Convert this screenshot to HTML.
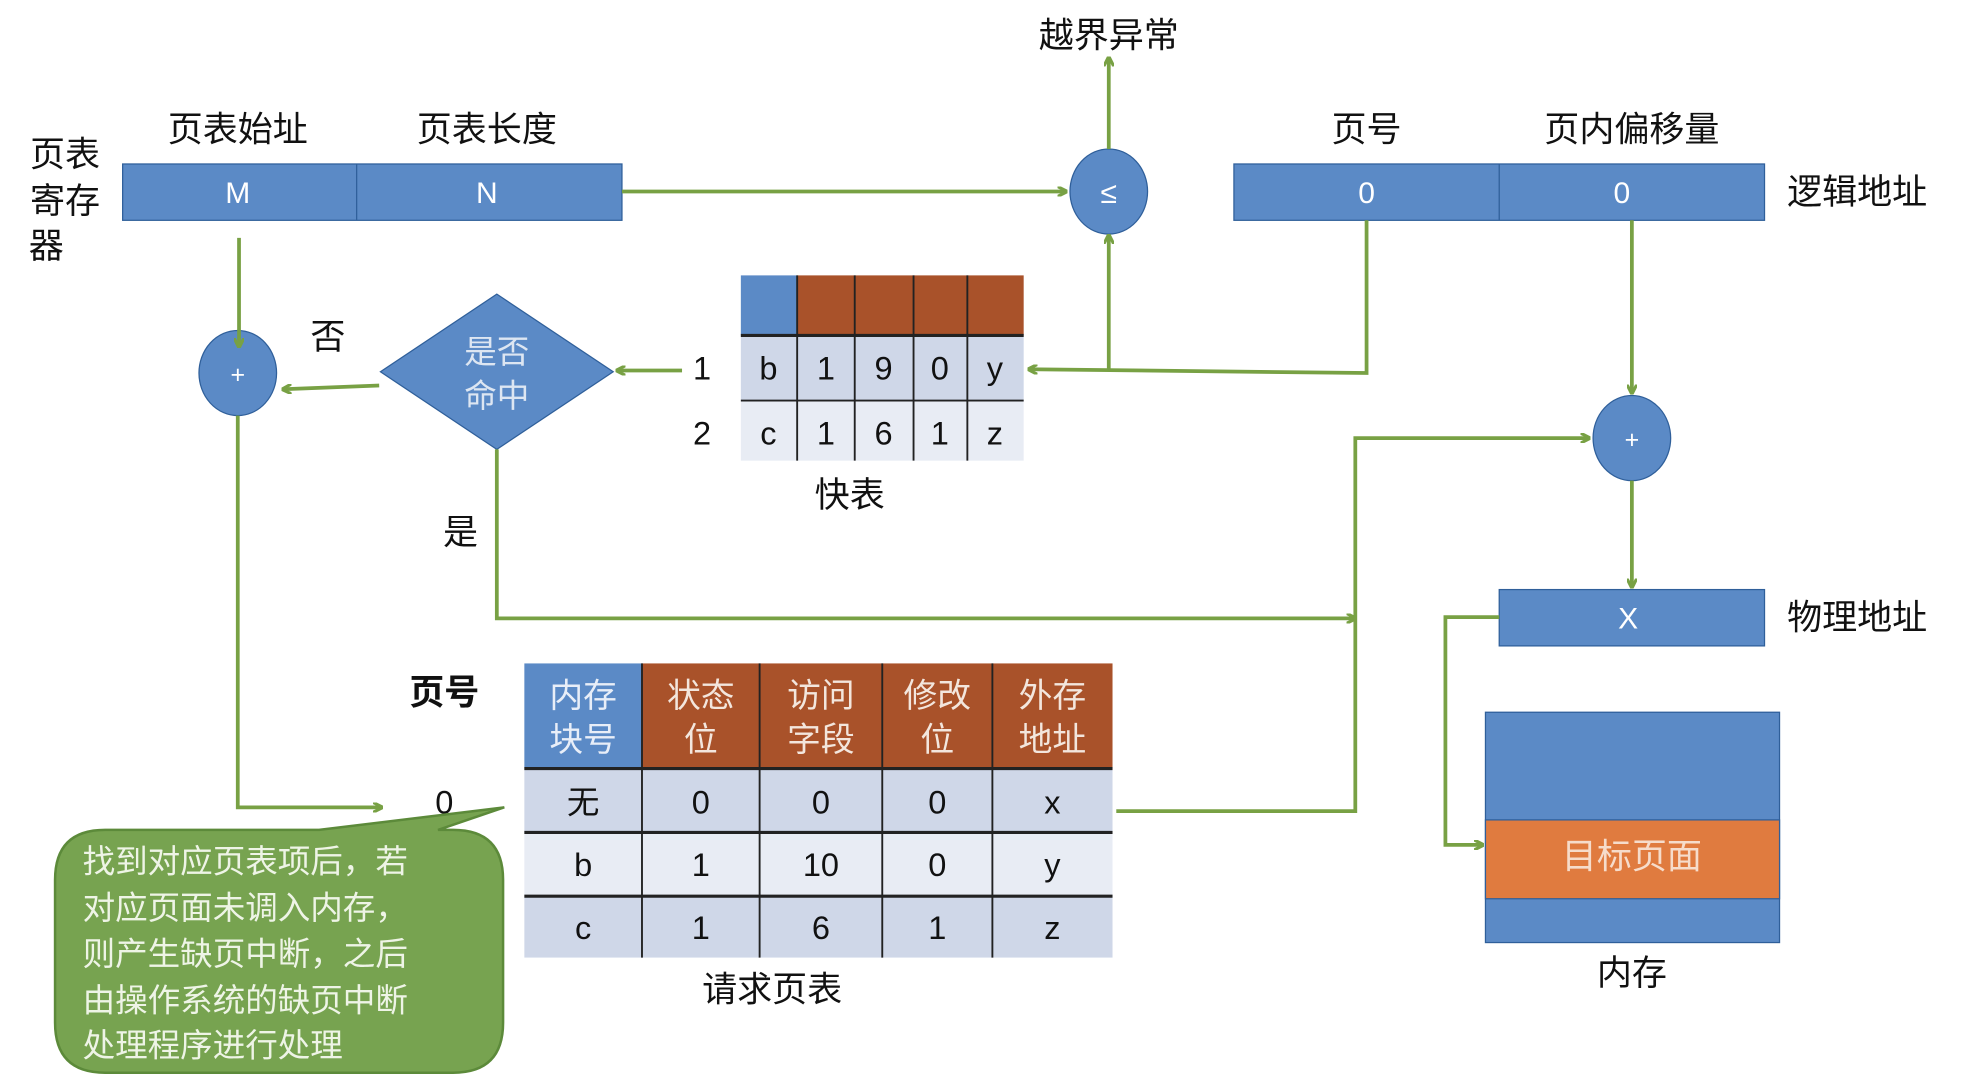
<!DOCTYPE html>
<html><head><meta charset="utf-8"><style>
html,body{margin:0;padding:0;background:#fff;}
svg{display:block;}
text{font-family:"Liberation Sans","Noto Sans CJK SC",sans-serif;}
</style></head><body>
<svg width="1961" height="1079" viewBox="0 0 1567 862" preserveAspectRatio="none" xmlns="http://www.w3.org/2000/svg">
<defs>
<marker id="a" markerWidth="8" markerHeight="8" refX="7" refY="4" orient="auto" markerUnits="userSpaceOnUse" viewBox="0 0 8 8">
<path d="M0,0 L8,4 L0,8" fill="none" stroke="#78a144" stroke-width="2.5"/></marker>
</defs>
<g font-size="28" fill="#111" text-anchor="middle">
<text x="52" y="133">页表</text><text x="52" y="170">寄存</text><text x="37" y="206">器</text>
<text x="190" y="113">页表始址</text><text x="389" y="113">页表长度</text>
<text x="886" y="38">越界异常</text>
<text x="1092" y="113">页号</text><text x="1304" y="113">页内偏移量</text>
<text x="1484" y="163">逻辑地址</text><text x="1484" y="503">物理地址</text>
<text x="262" y="279">否</text><text x="368" y="435">是</text>
<text x="561" y="303" font-size="26">1</text><text x="561" y="355" font-size="26">2</text>
<text x="679" y="405">快表</text>
<text x="355" y="563" font-weight="bold">页号</text>
<text x="355" y="650" font-size="26">0</text>
<text x="617" y="800">请求页表</text>
<text x="1304" y="787">内存</text>
</g>
<g stroke="#2f5f9a" stroke-width="1">
<rect x="98" y="131" width="399" height="45" fill="#5b8ac6"/><line x1="285" y1="131" x2="285" y2="176"/>
<rect x="986" y="131" width="424" height="45" fill="#5b8ac6"/><line x1="1198" y1="131" x2="1198" y2="176"/>
<rect x="1198" y="471" width="212" height="45" fill="#5b8ac6"/>
<ellipse cx="886" cy="153" rx="31" ry="34" fill="#5b8ac6"/>
<ellipse cx="190" cy="298" rx="31" ry="34" fill="#5b8ac6"/>
<ellipse cx="1304" cy="350" rx="31" ry="34" fill="#5b8ac6"/>
<polygon points="397,235 490,297 397,359 304,297" fill="#5b8ac6"/>
<rect x="1187" y="569" width="235" height="184" fill="#5b8ac6"/>
<rect x="1187" y="655" width="235" height="63" fill="#e07b3f"/>
</g>
<g font-size="24" fill="#fff" text-anchor="middle">
<text x="190" y="162">M</text><text x="389" y="162">N</text>
<text x="1092" y="162">0</text><text x="1296" y="162">0</text>
<text x="1301" y="502">X</text>
<text x="886" y="162">≤</text><text x="190" y="306" font-size="20">+</text><text x="1304" y="358" font-size="20">+</text>
<text x="397" y="290" font-size="26" fill="#dde6f2">是否</text><text x="397" y="325" font-size="26" fill="#dde6f2">命中</text>
<text x="1304" y="694" font-size="28" fill="#f6dccb">目标页面</text>
</g>
<rect x="592" y="220" width="45" height="48" fill="#5b8ac6"/>
<rect x="637" y="220" width="181" height="48" fill="#a9522a"/>
<rect x="592" y="268" width="226" height="52" fill="#cfd7e8"/>
<rect x="592" y="320" width="226" height="48" fill="#e8ecf4"/>
<g stroke="#222" stroke-width="1.5"><line x1="637" y1="220" x2="637" y2="368"/><line x1="683" y1="220" x2="683" y2="368"/><line x1="730" y1="220" x2="730" y2="368"/><line x1="773" y1="220" x2="773" y2="368"/><line x1="592" y1="268" x2="818" y2="268" stroke-width="2.5"/><line x1="592" y1="320" x2="818" y2="320"/></g>
<g font-size="26" fill="#111" text-anchor="middle">
<text x="614" y="303">b</text><text x="660" y="303">1</text><text x="706" y="303">9</text><text x="751" y="303">0</text><text x="795" y="303">y</text>
<text x="614" y="355">c</text><text x="660" y="355">1</text><text x="706" y="355">6</text><text x="751" y="355">1</text><text x="795" y="355">z</text>
</g>
<rect x="419" y="530" width="94" height="84" fill="#5b8ac6"/>
<rect x="513" y="530" width="376" height="84" fill="#a9522a"/>
<rect x="419" y="614" width="470" height="51" fill="#cfd7e8"/>
<rect x="419" y="665" width="470" height="51" fill="#e8ecf4"/>
<rect x="419" y="716" width="470" height="49" fill="#cfd7e8"/>
<g stroke="#222" stroke-width="1.5"><line x1="513" y1="530" x2="513" y2="765"/><line x1="607" y1="530" x2="607" y2="765"/><line x1="705" y1="530" x2="705" y2="765"/><line x1="793" y1="530" x2="793" y2="765"/><line x1="419" y1="614" x2="889" y2="614" stroke-width="2.5"/><line x1="419" y1="665" x2="889" y2="665" stroke-width="2.5"/><line x1="419" y1="716" x2="889" y2="716" stroke-width="2.5"/></g>
<g font-size="27" fill="#f3e6dd" text-anchor="middle">
<text x="466" y="565" fill="#e8eef8">内存</text><text x="466" y="600" fill="#e8eef8">块号</text>
<text x="560" y="565">状态</text><text x="560" y="600">位</text>
<text x="656" y="565">访问</text><text x="656" y="600">字段</text>
<text x="749" y="565">修改</text><text x="749" y="600">位</text>
<text x="841" y="565">外存</text><text x="841" y="600">地址</text>
</g>
<g font-size="26" fill="#111" text-anchor="middle">
<text x="466" y="650">无</text><text x="560" y="650">0</text><text x="656" y="650">0</text><text x="749" y="650">0</text><text x="841" y="650">x</text>
<text x="466" y="700">b</text><text x="560" y="700">1</text><text x="656" y="700">10</text><text x="749" y="700">0</text><text x="841" y="700">y</text>
<text x="466" y="750">c</text><text x="560" y="750">1</text><text x="656" y="750">6</text><text x="749" y="750">1</text><text x="841" y="750">z</text>
</g>
<g stroke="#78a144" stroke-width="3" fill="none">
<path d="M497,153 H852" marker-end="url(#a)"/>
<path d="M886,119 V46" marker-end="url(#a)"/>
<path d="M1092,176 V298 L822,295" marker-end="url(#a)"/>
<path d="M886,295 V188" marker-end="url(#a)"/>
<path d="M545,296 H493" marker-end="url(#a)"/>
<path d="M303,308 L226,311" marker-end="url(#a)"/>
<path d="M191,190 V277" marker-end="url(#a)"/>
<path d="M190,332 V645 H305" marker-end="url(#a)"/>
<path d="M397,359 V494 H1083" marker-end="url(#a)"/>
<path d="M892,648 H1083 V350 H1270" marker-end="url(#a)"/>
<path d="M1304,176 V314" marker-end="url(#a)"/>
<path d="M1304,384 V469" marker-end="url(#a)"/>
<path d="M1198,493 H1155 V675 H1185" marker-end="url(#a)"/>
</g>
<path d="M84,663 H255 L403,645 L350,663 H362 Q402,663 402,703 V817 Q402,857 362,857 H84 Q44,857 44,817 V703 Q44,663 84,663 Z" fill="#77a350" stroke="#5c8a3a" stroke-width="2"/>
<g font-size="26" fill="#eef4e6">
<text x="66" y="697">找到对应页表项后，若</text>
<text x="66" y="734">对应页面未调入内存，</text>
<text x="66" y="771">则产生缺页中断，之后</text>
<text x="66" y="808">由操作系统的缺页中断</text>
<text x="66" y="844">处理程序进行处理</text>
</g>
</svg>
</body></html>
